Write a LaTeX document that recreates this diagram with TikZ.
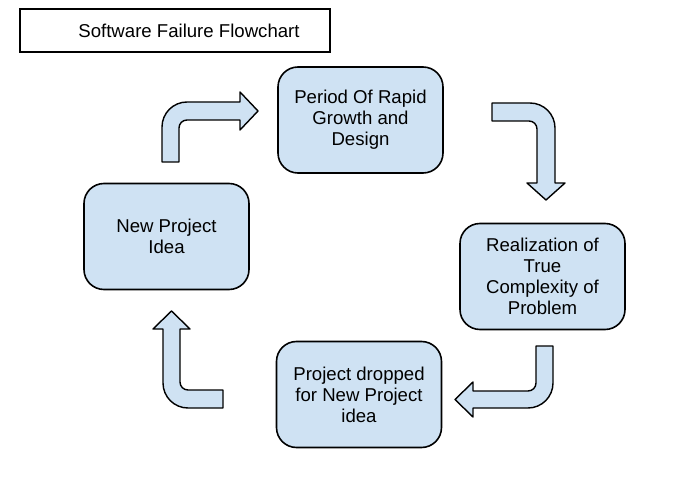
\documentclass[tikz,border=0pt]{standalone}
\usepackage{fontspec}
\setmainfont{Liberation Sans}

\definecolor{paleblue}{HTML}{CFE2F3}

\begin{document}
\begin{tikzpicture}[x=1pt,y=-1pt,
		stepbox/.style={draw=black, fill=paleblue, line width=1.6pt, rounded corners=20pt, minimum width=165pt, minimum height=106pt, align=center, font=\fontsize{18.6}{21}\selectfont},
		titlebox/.style={draw=black, line width=1.3pt, minimum width=310pt, minimum height=43pt, font=\fontsize{18.6}{21}\selectfont},
		bigarrow/.style={draw=black, fill=paleblue, line width=1.4pt, line join=round}]
			\useasboundingbox (0,0) rectangle (680,481);
			%Title
			\node[titlebox] (title) at (175,30.5) {\hspace*{28pt}Software Failure Flowchart};
			%Boxes
			\node[stepbox] (growth) at (360.5,120) {Period Of Rapid\\Growth and\\Design};
			\node[stepbox] (complexity) at (542.5,276.5) {Realization of\\True\\Complexity of\\Problem};
			\node[stepbox] (dropped) at (359,394.5) {Project dropped\\for New Project\\idea};
			\node[stepbox] (idea) at (166.5,236.5) {New Project\\Idea};
			%Arrows
			\path[bigarrow] (162,162) -- (162,127) arc[start angle=180, end angle=270, radius=25] -- (240,102) -- (240,92) -- (258,111) -- (240,130) -- (240,120) -- (187,120) arc[start angle=270, end angle=180, radius=8] -- (179,162) -- cycle;
			\path[bigarrow] (492,103) -- (530,103) arc[start angle=270, end angle=360, radius=25] -- (555,183) -- (565,183) -- (546,200) -- (527,183) -- (537,183) -- (537,129) arc[start angle=0, end angle=-90, radius=8] -- (492,121) -- cycle;
			\path[bigarrow] (536,346) -- (553,346) -- (553,383) arc[start angle=0, end angle=90, radius=25] -- (473,408) -- (473,417) -- (455,399.5) -- (473,382) -- (473,391) -- (528,391) arc[start angle=90, end angle=0, radius=8] -- cycle;
			\path[bigarrow] (223,390) -- (223,408) -- (188,408) arc[start angle=90, end angle=180, radius=25] -- (163,329) -- (153,329) -- (171.5,311) -- (190,329) -- (180,329) -- (180,382) arc[start angle=180, end angle=90, radius=8] -- cycle;
		\end{tikzpicture}
\end{document}
